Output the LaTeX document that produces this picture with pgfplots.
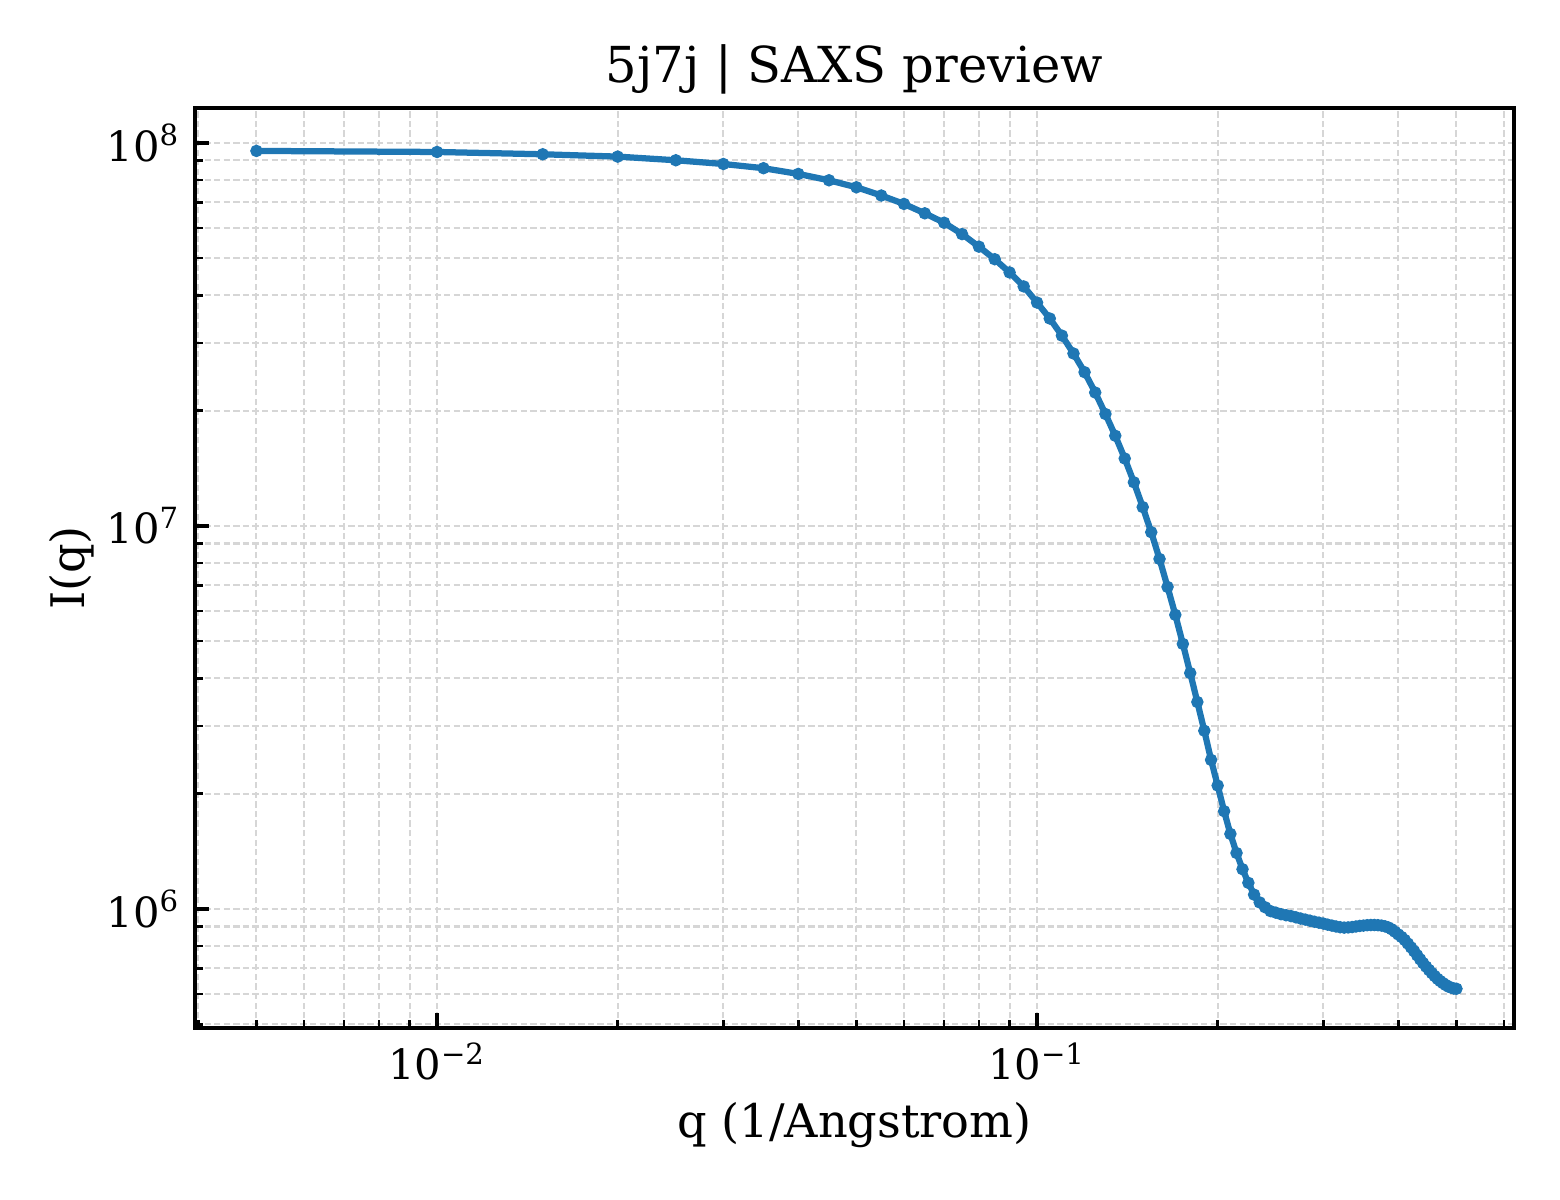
\documentclass[border=0pt]{standalone}
\usepackage{fontspec}
\setmainfont{DejaVu Serif}
\usepackage{pgfplots}
\pgfplotsset{compat=1.18}
\definecolor{tabblue}{HTML}{1F77B4}

\begin{document}
\begin{tikzpicture}
\begin{axis}[
    name=ax,
    at={(0,0)}, anchor=south west,
    scale only axis,
    width=316.6pt, height=220.8pt,
    xmode=log, ymode=log,
    xmin=0.00395, xmax=0.624,
    ymin=4.89e5, ymax=1.234e8,
    xtick={0.01,0.1},
    xticklabels={10\textsuperscript{\textminus2},10\textsuperscript{\textminus1}},
    minor xtick={0.004,0.005,0.006,0.007,0.008,0.009,0.02,0.03,0.04,0.05,0.06,0.07,0.08,0.09,0.2,0.3,0.4,0.5,0.6},
    ytick={1e6,1e7,1e8},
    yticklabels={10\textsuperscript{6},10\textsuperscript{7},10\textsuperscript{8}},
    minor ytick={5e5,6e5,7e5,8e5,9e5,2e6,3e6,4e6,5e6,6e6,7e6,8e6,9e6,2e7,3e7,4e7,5e7,6e7,7e7,8e7,9e7},
    xtick pos=bottom, ytick pos=left,
    tick align=inside,
    major tick length=3.5pt, minor tick length=2pt,
    every tick/.style={black, line width=0.8pt},
    minor tick style={black, line width=0.6pt},
    axis line style={line width=1pt},
    grid=both,
    major grid style={gray!32, line width=0.5pt, dash pattern=on 1.5pt off 0.8pt},
    minor grid style={gray!32, line width=0.5pt, dash pattern=on 1.5pt off 0.8pt},
    tick label style={font=\fontsize{10}{12}\selectfont},
    title={5j7j | SAXS preview},
    every axis title/.style={at={(axis description cs:0.5,1)}, anchor=base, yshift=6pt,
        font=\fontsize{11.9}{14}\selectfont},
    xlabel={q (1/Angstrom)},
    every axis x label/.style={at={(axis description cs:0.5,0)}, anchor=base, yshift=-26.4pt,
        font=\fontsize{11.1}{13}\selectfont},
    ylabel={I(q)},
    every axis y label/.style={at={(axis description cs:-0.0932,0.5)}, anchor=center, rotate=90,
        font=\fontsize{11.1}{13}\selectfont},
]
\addplot[color=tabblue, line width=1.5pt, mark=*, mark size=1.35pt,
         mark options={line width=0.3pt}] coordinates {
(0.005,9.53e7) (0.010,9.47e7) (0.015,9.34e7) (0.020,9.21e7) (0.025,9.01e7)
(0.030,8.81e7) (0.035,8.59e7) (0.040,8.30e7) (0.045,7.99e7) (0.050,7.66e7)
(0.055,7.29e7) (0.060,6.93e7) (0.065,6.55e7) (0.070,6.19e7) (0.075,5.78e7)
(0.080,5.36e7) (0.085,4.97e7) (0.090,4.59e7) (0.095,4.22e7) (0.100,3.83e7)
(0.105,3.48e7) (0.110,3.14e7) (0.115,2.82e7) (0.120,2.52e7) (0.125,2.23e7)
(0.130,1.96e7) (0.135,1.72e7) (0.140,1.50e7) (0.145,1.30e7) (0.150,1.12e7)
(0.155,9.63e6) (0.160,8.20e6) (0.165,6.93e6) (0.170,5.86e6) (0.175,4.92e6)
(0.180,4.13e6) (0.185,3.47e6) (0.190,2.92e6) (0.195,2.45e6) (0.200,2.10e6)
(0.205,1.80e6) (0.210,1.57e6) (0.215,1.40e6) (0.220,1.27e6) (0.225,1.17e6)
(0.230,1.09e6) (0.235,1.04e6) (0.240,1.01e6) (0.245,9.87e5) (0.250,9.78e5)
(0.255,9.69e5) (0.260,9.63e5) (0.265,9.58e5) (0.270,9.51e5) (0.275,9.44e5)
(0.280,9.38e5) (0.285,9.32e5) (0.290,9.26e5) (0.295,9.21e5) (0.300,9.16e5)
(0.305,9.10e5) (0.310,9.05e5) (0.315,9.00e5) (0.320,8.96e5) (0.325,8.94e5)
(0.330,8.95e5) (0.335,8.97e5) (0.340,9.00e5) (0.345,9.03e5) (0.350,9.05e5)
(0.355,9.07e5) (0.360,9.08e5) (0.365,9.08e5) (0.370,9.07e5) (0.375,9.05e5)
(0.380,9.01e5) (0.385,8.95e5) (0.390,8.85e5) (0.395,8.72e5) (0.400,8.58e5)
(0.405,8.45e5) (0.410,8.30e5) (0.415,8.12e5) (0.420,7.94e5) (0.425,7.76e5)
(0.430,7.57e5) (0.435,7.39e5) (0.440,7.22e5) (0.445,7.07e5) (0.450,6.93e5)
(0.455,6.80e5) (0.460,6.68e5) (0.465,6.57e5) (0.470,6.48e5) (0.475,6.40e5)
(0.480,6.33e5) (0.485,6.27e5) (0.490,6.23e5) (0.495,6.20e5) (0.500,6.19e5)
};
\end{axis}
\pgfresetboundingbox
\path (-46.8pt,-41.28pt) rectangle (327.6pt,246.72pt);
\end{tikzpicture}
\end{document}
